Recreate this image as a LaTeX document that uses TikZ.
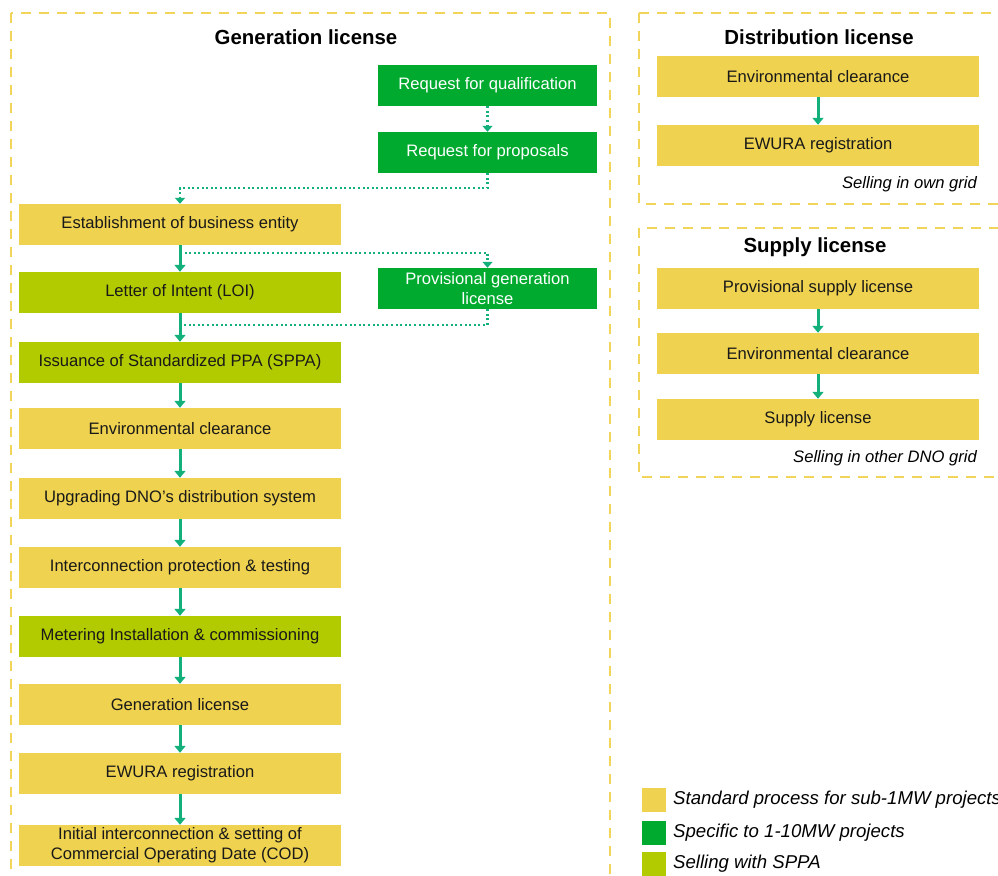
\documentclass[tikz,border=0pt]{standalone}
\usepackage{fontspec}
\setmainfont{Liberation Sans}
\usetikzlibrary{arrows.meta}
\definecolor{cy}{HTML}{EFD24F}
\definecolor{cg}{HTML}{00AA2F}
\definecolor{cl}{HTML}{B2CB00}
\definecolor{ca}{HTML}{13B07C}
\definecolor{cf}{HTML}{F0D55A}
\begin{document}
\begin{tikzpicture}[x=1pt,y=-1pt,
  box/.style={minimum height=41pt, inner sep=0pt, align=center, font=\fontsize{16.6}{20}\selectfont, text=black!90},
  wbox/.style={box, minimum width=322pt},
  nbox/.style={box, minimum width=219pt},
  ybox/.style={fill=cy},
  gbox/.style={fill=cg, text=white},
  lbox/.style={fill=cl},
  frame/.style={draw=cf, line width=2pt, dash pattern=on 10pt off 8pt},
  arr/.style={draw=ca, line width=3pt, -{Triangle[width=11pt,length=7pt]}, shorten >=0pt},
  dotarr/.style={draw=ca, line width=2.2pt, dash pattern=on 2pt off 2.6pt, -{Triangle[width=10pt,length=6pt]}},
  dotln/.style={draw=ca, line width=2.2pt, dash pattern=on 2pt off 2.6pt},
  ttl/.style={font=\bfseries\fontsize{20.4}{24}\selectfont, inner sep=0pt},
  note/.style={font=\itshape\fontsize{16.6}{19}\selectfont, inner sep=0pt, anchor=east},
  legsq/.style={fill=#1, minimum width=24pt, minimum height=24pt, inner sep=0pt},
  legtx/.style={font=\itshape\fontsize{18.6}{22}\selectfont, inner sep=0pt, anchor=west}
]
\clip (0,0) rectangle (998,875);
% frames
\draw[frame] (11,13) rectangle (610,900);
\draw[frame] (639,13) rectangle (1020,204);
\draw[frame] (639,228) rectangle (1020,477);

% Generation license
\node[ttl] (tg) at (306,37) {Generation license};
\node[nbox, gbox] (rfq) at (487.5,85.5) {Request for qualification};
\node[nbox, gbox] (rfp) at (487.5,152.5) {Request for proposals};
\node[wbox, ybox] (est) at (180,224.5) {Establishment of business entity};
\node[wbox, lbox] (loi) at (180,292.5) {Letter of Intent (LOI)};
\node[nbox, gbox] (prov) at (487.5,288.5) {Provisional generation\\license};
\node[wbox, lbox] (sppa) at (180,362.5) {Issuance of Standardized PPA (SPPA)};
\node[wbox, ybox] (env) at (180,428.5) {Environmental clearance};
\node[wbox, ybox] (upg) at (180,498.5) {Upgrading DNO’s distribution system};
\node[wbox, ybox] (icp) at (180,567.5) {Interconnection protection \& testing};
\node[wbox, lbox] (met) at (180,636.5) {Metering Installation \& commissioning};
\node[wbox, ybox] (gen) at (180,704.5) {Generation license};
\node[wbox, ybox] (ewu) at (180,773.5) {EWURA registration};
\node[wbox, ybox] (ini) at (180,845.5) {Initial interconnection \& setting of\\Commercial Operating Date (COD)};

\draw[arr] (est) -- (loi);
\draw[arr] (loi) -- (sppa);
\draw[arr] (sppa) -- (env);
\draw[arr] (env) -- (upg);
\draw[arr] (upg) -- (icp);
\draw[arr] (icp) -- (met);
\draw[arr] (met) -- (gen);
\draw[arr] (gen) -- (ewu);
\draw[arr] (ewu) -- (ini);

\coordinate (j1) at (180,253);
\coordinate (j2) at (180,325);
\draw[dotarr] (rfq) -- (rfp);
\draw[dotarr] (rfp.south) -- ++(0,15) -| (est.north);
\draw[dotarr] (j1) -| (prov.north);
\draw[dotln] (prov.south) |- (j2);

% Distribution license
\node[ttl] (td) at (819,37) {Distribution license};
\node[wbox, ybox] (denv) at (818,76.5) {Environmental clearance};
\node[wbox, ybox] (dewu) at (818,145.5) {EWURA registration};
\draw[arr] (denv) -- (dewu);
\node[note] (dn) at (977,184) {Selling in own grid};

% Supply license
\node[ttl] (ts) at (815,247) {Supply license};
\node[wbox, ybox] (sprov) at (818,288.5) {Provisional supply license};
\node[wbox, ybox] (senv) at (818,353.5) {Environmental clearance};
\node[wbox, ybox] (ssup) at (818,419.5) {Supply license};
\draw[arr] (sprov) -- (senv);
\draw[arr] (senv) -- (ssup);
\node[note] (sn) at (977,458) {Selling in other DNO grid};

% Legend
\node[legsq=cy] (l1) at (654,800) {};
\node[legsq=cg] (l2) at (654,833) {};
\node[legsq=cl] (l3) at (654,864) {};
\node[legtx] (t1) at (673,800) {Standard process for sub-1MW projects};
\node[legtx] (t2) at (673,833) {Specific to 1-10MW projects};
\node[legtx] (t3) at (673,864) {Selling with SPPA};
\end{tikzpicture}
\end{document}
